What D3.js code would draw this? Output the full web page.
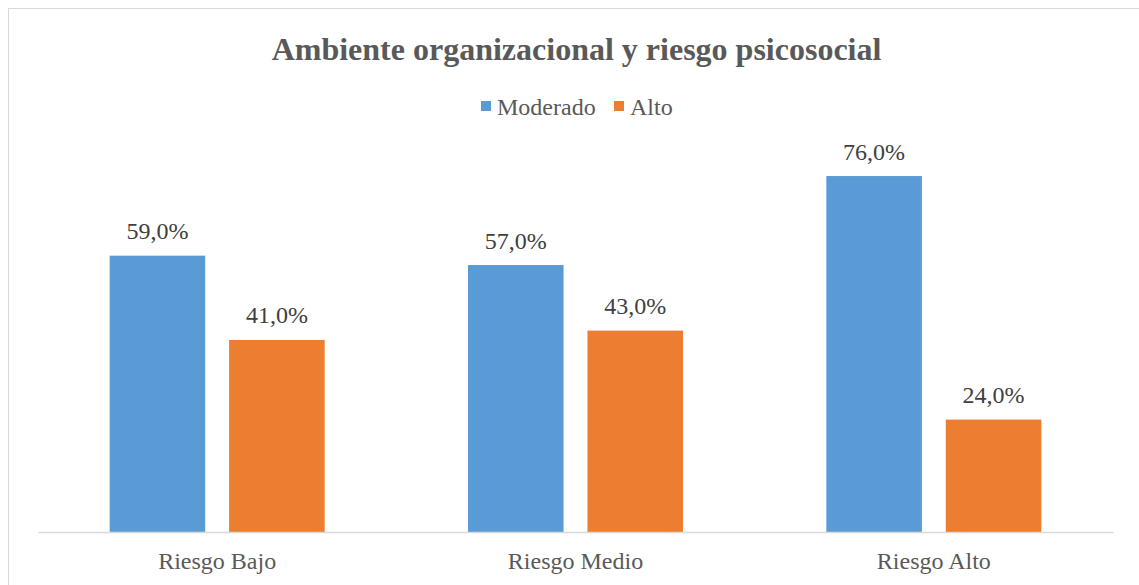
<!DOCTYPE html>
<html>
<head>
<meta charset="utf-8">
<script src="https://cdn.jsdelivr.net/npm/d3@7"></script>
<style>
  body { margin: 0; background: #fff; }
</style>
</head>
<body>
<svg id="chart"></svg>
<script>
// data
const categories = ['Riesgo Bajo', 'Riesgo Medio', 'Riesgo Alto'];
const seriesNames = ['Moderado', 'Alto'];
const moderado = [0.59, 0.57, 0.76];
const alto = [0.41, 0.43, 0.24];
const seriesColors = ['#5b9bd5', '#ed7d31'];

const serif = "'Times New Roman', 'Liberation Serif', 'DejaVu Serif', serif";

function makeChart() {
    let w = 1139;
    let h = 585;

    let svg = d3.select('#chart')
        .attr('width', w)
        .attr('height', h)
        .style('font-family', serif);

    // chart area border
    svg.append('rect')
        .attr('x', 8.5)
        .attr('y', 8.5)
        .attr('width', w + 10)
        .attr('height', h + 10)
        .attr('fill', 'none')
        .attr('stroke', '#d9d9d9')
        .attr('stroke-width', 1);

    let rows = categories.map((c, i) => ({ cat: c, values: [moderado[i], alto[i]] }));

    let x0 = d3.scaleBand()
        .domain(categories)
        .range([38, 1113]);

    let x1 = d3.scaleBand()
        .domain(seriesNames)
        .range([0, x0.bandwidth()])
        .paddingInner(0.2)
        .paddingOuter(0.6);

    let yScale = d3.scaleLinear()
        .domain([0, 0.8])
        .range([532, 157.3]);

    let fmt = (v) => d3.format('.1f')(v * 100).replace('.', ',') + '%';

    let groups = svg.selectAll('g.grp')
        .data(rows)
        .enter()
        .append('g')
        .attr('class', 'grp')
        .attr('transform', (d) => `translate(${x0(d.cat)},0)`);

    groups.selectAll('rect')
        .data((d) => d.values.map((v, i) => ({ key: seriesNames[i], v: v, i: i })))
        .enter()
        .append('rect')
        .attr('x', (d) => x1(d.key))
        .attr('y', (d) => yScale(d.v))
        .attr('width', x1.bandwidth())
        .attr('height', (d) => yScale(0) - yScale(d.v))
        .attr('fill', (d) => seriesColors[d.i]);

    groups.selectAll('text.lbl')
        .data((d) => d.values.map((v, i) => ({ key: seriesNames[i], v: v })))
        .enter()
        .append('text')
        .attr('class', 'lbl')
        .attr('x', (d) => x1(d.key) + x1.bandwidth() / 2)
        .attr('y', (d) => yScale(d.v) - 16.5)
        .attr('text-anchor', 'middle')
        .style('font-family', serif)
        .style('font-size', '24px')
        .attr('fill', '#404040')
        .text((d) => fmt(d.v));

    // category axis
    let xAxis = d3.axisBottom(x0).tickSize(0).tickPadding(20);
    let xAxisGroup = svg.append('g')
        .attr('transform', 'translate(0,532)')
        .call(xAxis);
    xAxisGroup.select('.domain')
        .attr('stroke', '#d9d9d9')
        .attr('stroke-width', 1.5);
    xAxisGroup.selectAll('.tick text')
        .style('font-size', '24px')
        .style('font-family', serif)
        .attr('fill', '#595959');

    // title
    svg.append('text')
        .attr('x', 576.5)
        .attr('y', 60)
        .attr('text-anchor', 'middle')
        .style('font-family', serif)
        .style('font-size', '32px')
        .style('font-weight', 'bold')
        .attr('fill', '#595959')
        .text('Ambiente organizacional y riesgo psicosocial');

    // legend
    let legendX = [481, 614];
    let legend = svg.selectAll('g.leg')
        .data(seriesNames)
        .enter()
        .append('g')
        .attr('class', 'leg')
        .attr('transform', (d, i) => `translate(${legendX[i]},101)`);
    legend.append('rect')
        .attr('width', 10)
        .attr('height', 10)
        .attr('fill', (d, i) => seriesColors[i]);
    legend.append('text')
        .attr('x', 16)
        .attr('y', 13.5)
        .style('font-family', serif)
        .style('font-size', '24px')
        .attr('fill', '#595959')
        .text((d) => d);
}

window.onload = function() {
    makeChart();
};
</script>
</body>
</html>
